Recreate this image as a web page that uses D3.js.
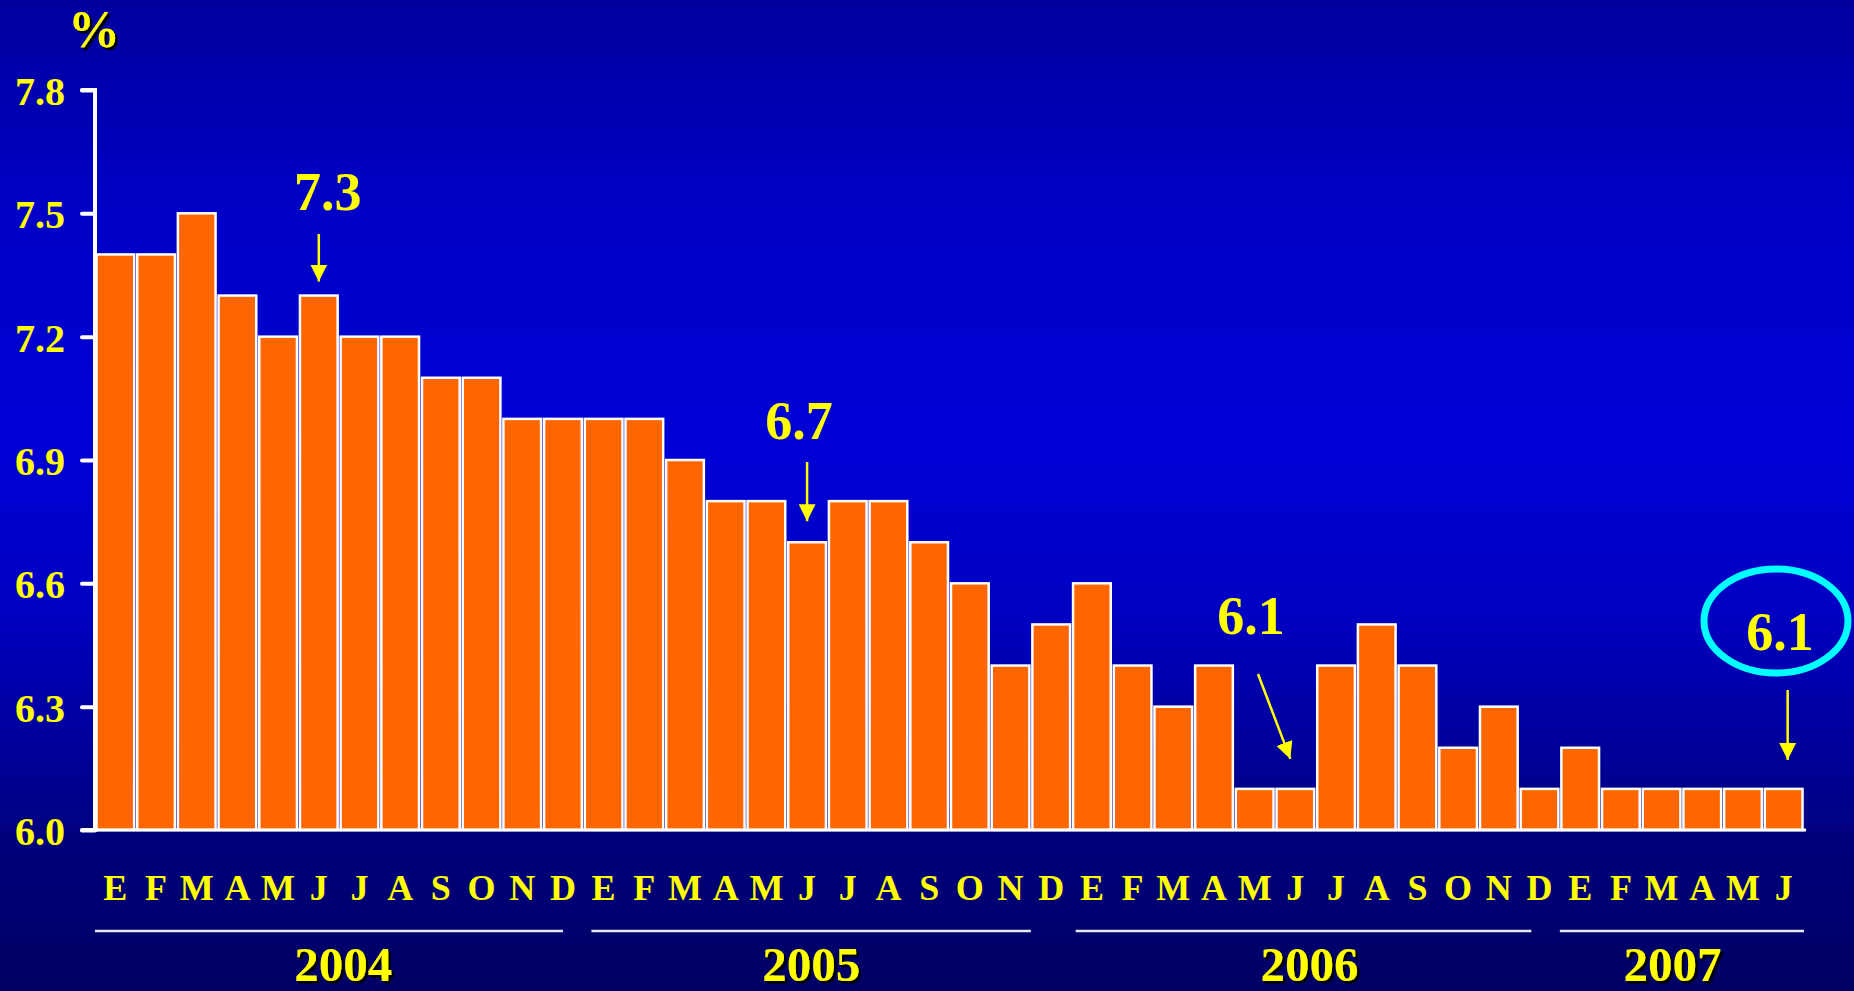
<!DOCTYPE html>
<html>
<head>
<meta charset="utf-8">
<script src="https://cdn.jsdelivr.net/npm/d3@7"></script>
<style>
  html, body { margin: 0; padding: 0; overflow: hidden; background: #000080; }
  svg { display: block; }
  text { font-family: "Liberation Serif", "Times New Roman", serif; font-weight: bold; }
</style>
</head>
<body>
<svg id="chart" width="1854" height="991"></svg>
<script>
// ---- data ----
const months = ["E","F","M","A","M","J","J","A","S","O","N","D",
                "E","F","M","A","M","J","J","A","S","O","N","D",
                "E","F","M","A","M","J","J","A","S","O","N","D",
                "E","F","M","A","M","J"];
const values = [7.4,7.4,7.5,7.3,7.2,7.3,7.2,7.2,7.1,7.1,7.0,7.0,
                7.0,7.0,6.9,6.8,6.8,6.7,6.8,6.8,6.7,6.6,6.4,6.5,
                6.6,6.4,6.3,6.4,6.1,6.1,6.4,6.5,6.4,6.2,6.3,6.1,
                6.2,6.1,6.1,6.1,6.1,6.1];
const yTicks = [6.0, 6.3, 6.6, 6.9, 7.2, 7.5, 7.8];
const yearLabels = ["2004","2005","2006","2007"];
const yearLineStart = [0.0, 12.2, 24.1, 36.0];   // in month-index units
const yearLineEnd   = [11.5, 23.0, 35.3, 42.0];
const yearLabelPos  = [6.1, 17.6, 29.85, 38.77];
const callouts = [
  {label: "7.3", idx: 5,  value: 7.3},
  {label: "6.7", idx: 17, value: 6.7},
  {label: "6.1", idx: 29, value: 6.1},
  {label: "6.1", idx: 41, value: 6.1}
];

// ---- layout ----
const W = 1854, H = 991;
const mLeft = 95, mRight = 1804, mTop = 90, mBottom = 830;
const svg = d3.select("#chart");

const defs = svg.append("defs");
const grad = defs.append("linearGradient").attr("id","bg")
  .attr("x1",0).attr("y1",0).attr("x2",0).attr("y2",1);
[["0%","#00009e"],["22%","#0000c8"],["45%","#0000d6"],["62%","#0000c2"],["85%","#00007c"],["100%","#000064"]]
  .forEach(([o,c]) => grad.append("stop").attr("offset",o).attr("stop-color",c));
const shadow = defs.append("filter").attr("id","shadow")
  .attr("x","-20%").attr("y","-20%").attr("width","150%").attr("height","150%");
shadow.append("feDropShadow").attr("dx",2.5).attr("dy",2.5).attr("stdDeviation",0.3)
  .attr("flood-color","#000000").attr("flood-opacity",1);
const mk = defs.append("marker").attr("id","arrow").attr("viewBox","0 0 10 10")
  .attr("refX",10).attr("refY",5).attr("markerWidth",17).attr("markerHeight",17)
  .attr("markerUnits","userSpaceOnUse").attr("orient","auto");
mk.append("path").attr("d","M0,0 L10,5 L0,10 Z").attr("fill","#ffff00");

svg.append("rect").attr("width",W).attr("height",H).attr("fill","url(#bg)");

const x = d3.scaleBand().domain(d3.range(months.length)).range([mLeft, mRight]).padding(0);
const bw = x.bandwidth();
const xi = d3.scaleLinear().domain([0, months.length]).range([mLeft, mRight]);
const y = d3.scaleLinear().domain([6.0, 7.8]).range([mBottom, mTop]);

// bars
svg.append("g").selectAll("rect").data(values).join("rect")
  .attr("x", (d,i) => x(i) + 1.5)
  .attr("width", bw - 3)
  .attr("y", d => y(d))
  .attr("height", d => y(6.0) - y(d))
  .attr("fill", "#ff6600")
  .attr("stroke", "#ffffff")
  .attr("stroke-width", 2.5);

// baseline
svg.append("line").attr("x1", mLeft).attr("x2", mRight + 2)
  .attr("y1", y(6.0)).attr("y2", y(6.0))
  .attr("stroke", "#ffffff").attr("stroke-width", 3);

// y axis
const yAxis = d3.axisLeft(y).tickValues(yTicks).tickFormat(d3.format(".1f")).tickSize(13).tickPadding(17);
const ga = svg.append("g").attr("transform", `translate(${mLeft},0)`).call(yAxis);
ga.select(".domain").attr("stroke","#ffffff").attr("stroke-width",4)
  .attr("d", `M-13,${y(7.8)}H0V${y(6.0)}H-13`).attr("stroke-linecap","round").attr("fill","none");
ga.selectAll(".tick line").attr("stroke","#ffffff").attr("stroke-width",4).attr("stroke-linecap","round");
ga.selectAll(".tick text").attr("fill","#ffff00").attr("font-size",40)
  .attr("font-family","'Liberation Serif', serif").attr("font-weight","bold").attr("dy","0.36em");

// % label
svg.append("text").attr("x", mLeft - 1).attr("y", 47).attr("text-anchor","middle")
  .attr("fill","#ffff00").attr("font-size",52).attr("filter","url(#shadow)").text("%");

// month labels
svg.append("g").selectAll("text").data(months).join("text")
  .attr("x", (d,i) => x(i) + bw/2)
  .attr("y", 900)
  .attr("text-anchor","middle")
  .attr("fill","#ffff00")
  .attr("font-size",36)
  .text(d => d);

// year lines and labels
svg.append("g").selectAll("line").data(yearLabels).join("line")
  .attr("x1", (d,i) => xi(yearLineStart[i]))
  .attr("x2", (d,i) => xi(yearLineEnd[i]))
  .attr("y1", 931).attr("y2", 931)
  .attr("stroke", "#e8e8f0").attr("stroke-width", 2.5);
svg.append("g").selectAll("text").data(yearLabels).join("text")
  .attr("x", (d,i) => xi(yearLabelPos[i]))
  .attr("y", 981)
  .attr("text-anchor","middle")
  .attr("fill","#ffff00")
  .attr("font-size",49)
  .attr("filter","url(#shadow)")
  .text(d => d);

// callouts
const cx = d => x(d.idx) + bw/2;
// 7.3
const c0 = callouts[0];
svg.append("text").attr("x", cx(c0) + 9).attr("y", 210).attr("text-anchor","middle")
  .attr("fill","#ffff00").attr("font-size",54).text(c0.label);
svg.append("line").attr("x1", cx(c0)).attr("x2", cx(c0)).attr("y1", 234).attr("y2", y(c0.value) - 14)
  .attr("stroke","#ffff00").attr("stroke-width",2.5).attr("marker-end","url(#arrow)");
// 6.7
const c1 = callouts[1];
svg.append("text").attr("x", cx(c1) - 8).attr("y", 439).attr("text-anchor","middle")
  .attr("fill","#ffff00").attr("font-size",54).text(c1.label);
svg.append("line").attr("x1", cx(c1)).attr("x2", cx(c1)).attr("y1", 462).attr("y2", y(c1.value) - 21)
  .attr("stroke","#ffff00").attr("stroke-width",2.5).attr("marker-end","url(#arrow)");
// 6.1 (2006)
const c2 = callouts[2];
svg.append("text").attr("x", 1251).attr("y", 634).attr("text-anchor","middle")
  .attr("fill","#ffff00").attr("font-size",54).text(c2.label);
svg.append("line").attr("x1", 1258).attr("x2", cx(c2) - 5).attr("y1", 674).attr("y2", y(c2.value) - 30)
  .attr("stroke","#ffff00").attr("stroke-width",2.5).attr("marker-end","url(#arrow)");
// 6.1 (2007) circled
const c3 = callouts[3];
svg.append("ellipse").attr("cx", 1776).attr("cy", 621).attr("rx", 72).attr("ry", 52)
  .attr("fill","none").attr("stroke","#00ffff").attr("stroke-width",7);
svg.append("text").attr("x", 1780).attr("y", 650).attr("text-anchor","middle")
  .attr("fill","#ffff00").attr("font-size",54).text(c3.label);
svg.append("line").attr("x1", cx(c3) + 4).attr("x2", cx(c3) + 4).attr("y1", 690).attr("y2", y(c3.value) - 29)
  .attr("stroke","#ffff00").attr("stroke-width",2.5).attr("marker-end","url(#arrow)");
</script>
</body>
</html>
